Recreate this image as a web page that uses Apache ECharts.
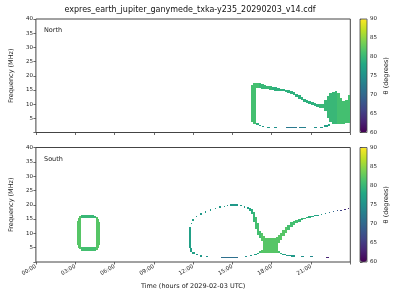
<!DOCTYPE html>
<html>
<head>
<meta charset="utf-8">
<script src="https://cdn.jsdelivr.net/npm/echarts@6/dist/echarts.min.js"></script>
<style>html,body{margin:0;padding:0;background:#fff;}#c{width:400px;height:300px;}</style>
</head>
<body>
<div id="c"></div>
<script>
// ---- data: each cell = [timeStart (h), timeEnd (h), freqLow (MHz), freqHigh (MHz), theta (deg)]
const hourTicks = [0, 3, 6, 9, 12, 15, 18, 21];
const freqTicks = [5, 10, 15, 20, 25, 30, 35, 40];
const thetaTicks = [60, 65, 70, 75, 80, 85, 90];

const northCells = [
  // left band of the loop
  [16.40, 16.60, 3.6, 16.6, 81], [16.60, 16.80, 3.1, 17.3, 81],
  // lower-left corner + lower branch
  [16.80, 17.00, 2.6, 3.2, 79], [17.00, 17.20, 2.2, 2.7, 77],
  [17.25, 17.45, 1.9, 2.3, 76], [17.65, 17.90, 1.7, 2.1, 76],
  [18.20, 18.40, 1.6, 2.0, 75], [19.10, 19.90, 1.5, 1.9, 72],
  [20.10, 20.60, 1.5, 1.9, 73], [21.20, 21.45, 1.6, 2.0, 75],
  [21.65, 21.90, 1.7, 2.1, 76], [22.00, 22.30, 2.0, 2.5, 77],
  [22.30, 22.45, 2.4, 3.0, 78],
  // upper branch
  [16.80, 17.00, 15.6, 17.3, 81], [17.00, 17.20, 15.6, 17.3, 80],
  [17.20, 17.40, 15.4, 17.1, 80], [17.40, 17.60, 15.3, 16.7, 80],
  [17.60, 17.80, 15.2, 16.5, 80], [17.80, 18.00, 15.0, 16.3, 80],
  [18.00, 18.20, 14.9, 16.1, 79], [18.20, 18.40, 14.8, 15.9, 79],
  [18.40, 18.60, 14.7, 15.7, 79], [18.60, 18.80, 14.6, 15.5, 79],
  [18.80, 19.00, 14.5, 15.3, 79], [19.00, 19.20, 14.3, 15.1, 79],
  [19.20, 19.40, 14.0, 14.9, 79], [19.40, 19.60, 13.6, 14.6, 79],
  [19.60, 19.80, 13.1, 14.2, 79], [19.80, 20.00, 12.5, 13.7, 79],
  [20.00, 20.20, 11.9, 13.1, 79], [20.20, 20.40, 11.3, 12.5, 79],
  [20.40, 20.60, 10.8, 11.9, 79], [20.60, 20.80, 10.4, 11.4, 79],
  [20.80, 21.00, 10.0, 11.0, 79], [21.00, 21.20, 9.7, 10.7, 79],
  [21.20, 21.40, 9.3, 10.4, 79], [21.40, 21.60, 9.0, 10.1, 79],
  [21.60, 21.80, 8.7, 9.9, 80], [21.80, 22.00, 8.5, 10.0, 80],
  // blob
  [22.00, 22.20, 7.6, 11.5, 80], [22.20, 22.40, 5.2, 12.8, 80],
  [22.40, 22.60, 3.6, 13.8, 80], [22.60, 22.80, 3.0, 14.4, 80],
  [22.80, 23.00, 2.9, 14.7, 80], [23.00, 23.20, 2.9, 13.8, 81],
  [23.20, 23.40, 2.9, 12.0, 81], [23.40, 23.60, 2.9, 11.0, 81],
  [23.60, 23.80, 3.2, 11.6, 81], [23.80, 24.00, 3.5, 13.2, 81]
];

const southCells = [
  // closed ring near 04:00
  [3.10, 3.20, 6.0, 14.2, 82], [3.20, 3.30, 5.0, 15.3, 82],
  [3.30, 3.45, 4.4, 15.9, 82],
  [3.45, 3.60, 4.0, 5.4, 81], [3.45, 3.60, 15.3, 16.3, 80],
  [3.60, 4.40, 3.8, 5.3, 81], [3.60, 4.40, 15.3, 16.4, 80],
  [4.40, 4.60, 4.0, 5.4, 81], [4.40, 4.60, 15.2, 16.2, 80],
  [4.60, 4.75, 4.3, 15.8, 82], [4.75, 4.85, 4.9, 15.0, 82],
  [4.85, 4.92, 6.0, 14.0, 82],
  // left side of the arch
  [11.70, 11.85, 4.8, 12.3, 77], [11.75, 11.95, 3.6, 5.0, 77],
  [11.95, 12.15, 2.9, 3.6, 77],
  // dotted arch
  [11.85, 11.95, 13.2, 13.7, 77], [11.95, 12.05, 14.4, 14.9, 77],
  [12.20, 12.30, 15.6, 16.1, 76], [12.55, 12.65, 16.5, 17.0, 76],
  [12.90, 13.00, 17.2, 17.7, 76], [13.30, 13.40, 17.9, 18.4, 76],
  [13.65, 13.75, 18.4, 18.9, 76], [14.00, 14.10, 18.9, 19.4, 76],
  [14.35, 14.45, 19.2, 19.7, 76], [14.60, 14.70, 19.4, 19.9, 76],
  [14.85, 15.45, 19.6, 20.1, 76], [15.60, 15.70, 19.4, 19.9, 76],
  [15.90, 16.00, 19.0, 19.5, 76],
  // descending band + blob
  [16.10, 16.25, 18.5, 19.3, 77], [16.25, 16.40, 17.9, 19.0, 78],
  [16.40, 16.55, 16.6, 18.4, 79], [16.55, 16.70, 13.8, 17.4, 80],
  [16.70, 16.85, 11.5, 15.8, 81], [16.85, 17.00, 9.6, 13.6, 81],
  [17.00, 17.15, 8.4, 11.0, 81], [17.00, 17.15, 3.0, 3.8, 81],
  [17.15, 17.30, 7.3, 10.0, 82], [17.15, 17.30, 3.0, 4.3, 82],
  [17.30, 17.50, 3.0, 9.0, 82], [17.50, 17.70, 3.0, 8.5, 82],
  [17.70, 17.90, 3.1, 8.3, 82], [17.90, 18.10, 3.1, 8.3, 82],
  [18.10, 18.30, 3.0, 8.3, 82], [18.30, 18.45, 3.0, 8.6, 82],
  [18.45, 18.60, 3.0, 3.8, 81], [18.45, 18.60, 6.5, 9.3, 82],
  [18.60, 18.80, 2.7, 3.3, 79], [18.60, 18.80, 7.6, 10.3, 82],
  // rising arm
  [18.80, 19.00, 9.0, 11.2, 82], [19.00, 19.20, 10.2, 12.1, 82],
  [19.20, 19.40, 11.2, 13.0, 81], [19.40, 19.60, 12.1, 13.8, 81],
  [19.60, 19.80, 12.9, 14.4, 81], [19.80, 20.00, 13.5, 14.8, 81],
  [20.00, 20.20, 14.0, 15.1, 80], [20.20, 20.40, 14.5, 15.3, 80],
  [20.40, 20.60, 14.9, 15.5, 80], [20.60, 20.80, 15.2, 15.8, 79],
  [20.80, 21.00, 15.5, 16.0, 79], [21.00, 21.20, 15.7, 16.1, 78],
  [21.20, 21.40, 15.9, 16.3, 78], [21.40, 21.60, 16.1, 16.5, 77],
  // dotted continuation
  [21.75, 21.85, 16.6, 16.9, 76], [22.05, 22.15, 16.9, 17.2, 74],
  [22.35, 22.45, 17.2, 17.5, 72], [22.65, 22.75, 17.4, 17.7, 70],
  [22.95, 23.05, 17.7, 18.0, 68], [23.25, 23.35, 18.0, 18.3, 66],
  [23.55, 23.65, 18.3, 18.6, 64], [23.80, 23.90, 18.5, 18.8, 63],
  // lower branch
  [12.20, 12.35, 2.4, 2.8, 76], [12.55, 12.70, 1.9, 2.3, 76],
  [13.00, 13.15, 1.7, 2.1, 75], [14.15, 15.40, 1.3, 1.8, 71],
  [15.95, 16.10, 1.7, 2.1, 75], [16.35, 16.50, 2.0, 2.4, 76],
  [16.65, 16.85, 2.4, 2.9, 77], [16.85, 17.00, 2.8, 3.3, 78],
  [18.80, 19.10, 2.4, 2.9, 77], [19.10, 19.50, 2.1, 2.6, 76],
  [19.50, 19.75, 1.9, 2.3, 76], [20.20, 20.45, 1.7, 2.1, 75],
  [20.90, 21.15, 1.6, 2.0, 74], [22.15, 22.40, 1.3, 1.7, 63]
];

const viridis = ['#440154','#482475','#414487','#355f8d','#2a788e','#21918c','#22a884','#44bf70','#7ad151','#bddf26','#fde725'];

const FONT = 'DejaVu Sans';
const TXT = '#222';
const EDGE = '#444';

const panels = [
  { top: 19, height: 113.5, name: 'North', cells: northCells, showX: false },
  { top: 147.5, height: 114.5, name: 'South', cells: southCells, showX: true }
];

function hh(v) { return (v < 10 ? '0' : '') + v + ':00'; }

function renderCell(params, api) {
  const a = api.coord([api.value(0), api.value(3)]);
  const b = api.coord([api.value(1), api.value(2)]);
  let x0 = Math.round(a[0]), x1 = Math.round(b[0]);
  let y0 = Math.round(a[1]), y1 = Math.round(b[1]);
  if (x1 <= x0) x1 = x0 + 1;
  if (y1 <= y0) y1 = y0 + 1;
  return {
    type: 'rect',
    shape: { x: x0, y: y0, width: x1 - x0, height: y1 - y0 },
    style: { fill: api.visual('color'), stroke: null, lineWidth: 0, decal: null }
  };
}

const grid = [], xAxis = [], yAxis = [], series = [], visualMap = [], graphic = [];

panels.forEach((p, i) => {
  grid.push({ left: 31.3, width: 319, top: p.top, height: p.height, show: true,
    borderColor: EDGE, borderWidth: 1, backgroundColor: 'transparent', containLabel: false });
  xAxis.push({ gridIndex: 2 * i, type: 'value', min: 0, max: 24, interval: 3,
    axisLine: { show: false }, splitLine: { show: false },
    axisTick: { show: true, length: 2.5, lineStyle: { color: EDGE, width: 0.8 } },
    axisLabel: { show: p.showX, rotate: 30, fontSize: 5.5, fontFamily: FONT, color: TXT, margin: 4,
      formatter: v => (hourTicks.indexOf(v) >= 0 ? hh(v) : '') },
    name: p.showX ? 'Time (hours of 2029-02-03 UTC)' : '', nameLocation: 'middle', nameGap: 21,
    nameTextStyle: { fontSize: 6.5, fontFamily: FONT, color: TXT } });
  yAxis.push({ gridIndex: 2 * i, type: 'value', min: 0, max: 40, interval: 5,
    axisLine: { show: false }, splitLine: { show: false },
    axisTick: { show: true, length: 2.5, lineStyle: { color: EDGE, width: 0.8 } },
    axisLabel: { fontSize: 5.5, fontFamily: FONT, color: TXT, margin: 3,
      formatter: v => (freqTicks.indexOf(v) >= 0 ? String(v) : '') },
    name: 'Frequency (MHz)', nameLocation: 'middle', nameGap: 18, nameRotate: 90,
    nameTextStyle: { fontSize: 6.5, fontFamily: FONT, color: TXT } });
  series.push({ type: 'custom', xAxisIndex: 2 * i, yAxisIndex: 2 * i, data: p.cells,
    encode: { x: [0, 1], y: [2, 3] }, renderItem: renderCell, silent: true, clip: true });

  grid.push({ left: 360, width: 7, top: p.top, height: p.height, show: true,
    borderColor: EDGE, borderWidth: 0.8, backgroundColor: 'transparent', z: 5 });
  xAxis.push({ gridIndex: 2 * i + 1, type: 'value', min: 0, max: 1, show: false });
  yAxis.push({ gridIndex: 2 * i + 1, type: 'value', position: 'right', min: 60, max: 90, interval: 5,
    axisLine: { show: false }, splitLine: { show: false },
    axisTick: { show: true, length: 2.5, lineStyle: { color: EDGE, width: 0.8 } },
    axisLabel: { fontSize: 5.5, fontFamily: FONT, color: TXT, margin: 3,
      formatter: v => (thetaTicks.indexOf(v) >= 0 ? String(v) : '') },
    name: 'θ (degrees)', nameLocation: 'middle', nameGap: 16, nameRotate: 90,
    nameTextStyle: { fontSize: 6.5, fontFamily: FONT, color: TXT } });

  visualMap.push({ type: 'continuous', min: 60, max: 90, seriesIndex: i, dimension: 4,
    inRange: { color: viridis }, orient: 'vertical', left: 360, top: p.top,
    itemWidth: 7, itemHeight: p.height, calculable: false, padding: 0, hoverLink: false,
    showLabel: false, text: null, z: 3 });

  graphic.push({ type: 'text', left: 44, top: p.top + 8,
    style: { text: p.name, font: '6.5px "DejaVu Sans"', fill: TXT } });
});

graphic.push({ type: 'text', x: 190, y: 6,
  style: { text: 'expres_earth_jupiter_ganymede_txka-y235_20290203_v14.cdf',
    font: '8px "DejaVu Sans"', fill: '#111', align: 'center' } });

const chart = echarts.init(document.getElementById('c'), null, { renderer: 'canvas' });
chart.setOption({ animation: false, backgroundColor: '#fff', aria: { enabled: false },
  grid, xAxis, yAxis, series, visualMap, graphic });
</script>
</body>
</html>
